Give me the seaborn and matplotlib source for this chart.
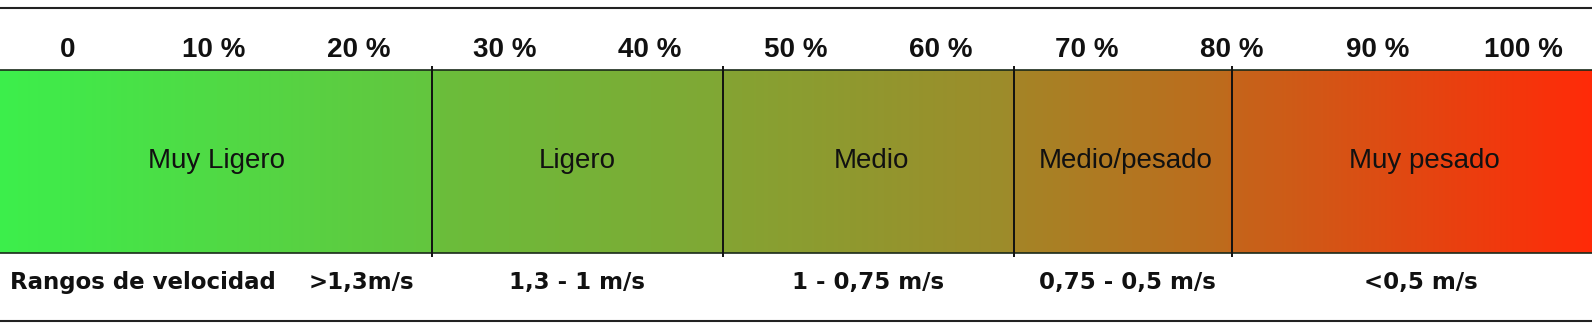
import numpy as np
import pandas as pd
import matplotlib
matplotlib.use("Agg")
import matplotlib.pyplot as plt
import seaborn as sns
from matplotlib.colors import LinearSegmentedColormap

# ---- data ----
pct_ticks = [0, 10, 20, 30, 40, 50, 60, 70, 80, 90, 100]
pct_labels = ["0", "10 %", "20 %", "30 %", "40 %", "50 %", "60 %", "70 %", "80 %", "90 %", "100 %"]
boundaries = [25, 45, 65, 80]
categories = ["Muy Ligero", "Ligero", "Medio", "Medio/pesado", "Muy pesado"]
cat_pos = [10.2, 35, 55.2, 72.7, 93.2]
speed_labels = [">1,3m/s", "1,3 - 1 m/s", "1 - 0,75 m/s", "0,75 - 0,5 m/s", "<0,5 m/s"]
speed_pos = [20.2, 35, 55, 72.8, 93.0]
title_left = "Rangos de velocidad"

# gradient colour stops (fraction of bar width, colour)
grad_stops = [(0.0, "#3CEE4B"), (0.27, "#63C53E"), (0.275, "#6ABD3A"),
              (0.452, "#80A734"), (0.456, "#84A332"), (0.634, "#9D8B2A"),
              (0.638, "#A48426"), (0.771, "#BE6A1C"), (0.775, "#C4641A"),
              (1.0, "#FF2A08")]

W, H, DPI = 1592, 333, 100
px0, pxper = 68.0, 14.55          # pixel of 0 %, pixels per 1 %
xmin = (0 - px0) / pxper
xmax = (W - px0) / pxper

sns.set_theme(style="white")
plt.rcParams['font.family'] = ['Liberation Sans', 'DejaVu Sans']

fig = plt.figure(figsize=(W / DPI, H / DPI), dpi=DPI)

bar_top, bar_bot = 70, 253
# gradient bar via seaborn heatmap
axb = fig.add_axes([0, 1 - bar_bot / H, 1, (bar_bot - bar_top) / H])
cmap = LinearSegmentedColormap.from_list("g", grad_stops, N=1024)
grad = pd.DataFrame([np.linspace(0, 1, 800)])
sns.heatmap(grad, ax=axb, cmap=cmap, cbar=False, xticklabels=False,
            yticklabels=False, vmin=0, vmax=1, rasterized=True)
axb.set_axis_off()

# overlay axes in (percent, pixel) coordinates
ax = fig.add_axes([0, 0, 1, 1])
ax.set_xlim(xmin, xmax)
ax.set_ylim(H, 0)
ax.patch.set_alpha(0)
ax.set_axis_off()

# page lines
ax.hlines([7.5, 321], xmin, xmax, color="#222222", lw=1.5)
# bar borders
ax.hlines([bar_top, bar_bot], xmin, xmax, color="#1a2a1a", lw=1.2)
# dividers
ax.vlines(boundaries, 66, 257, color="#111111", lw=1.4)

for p, lab in zip(pct_ticks, pct_labels):
    ax.text(p, 50, lab, ha="center", va="center", fontsize=20,
            fontweight="bold", color="#111111")

for p, lab in zip(cat_pos, categories):
    ax.text(p, 161, lab, ha="center", va="center", fontsize=20,
            color="#111111")

bold_bottom = dict(fontweight="bold", color="#111111",
                   family=["DejaVu Sans"], va="center", fontsize=16.5)
ax.text((10 - px0) / pxper, 283, title_left, ha="left", **bold_bottom)
for p, lab in zip(speed_pos, speed_labels):
    ax.text(p, 283, lab, ha="center", **bold_bottom)

fig.savefig("out.png", dpi=DPI, facecolor="white")
